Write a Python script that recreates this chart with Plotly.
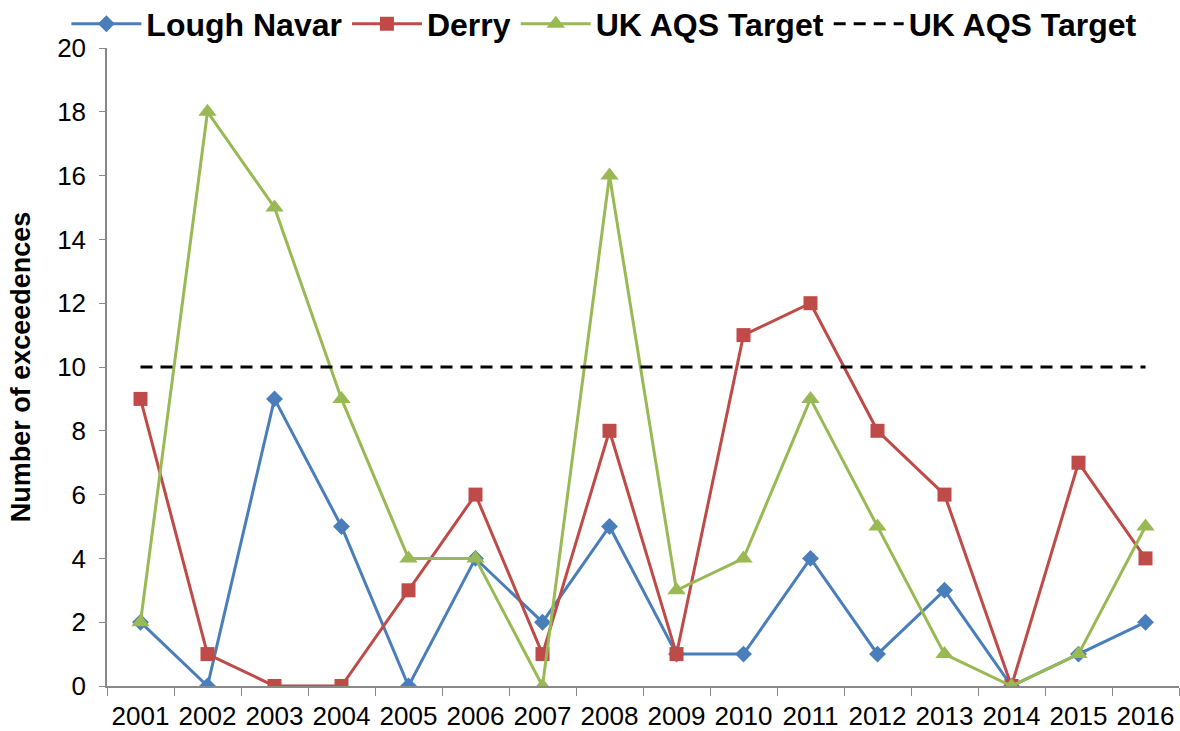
import plotly.graph_objects as go

years = ["2001", "2002", "2003", "2004", "2005", "2006", "2007", "2008",
         "2009", "2010", "2011", "2012", "2013", "2014", "2015", "2016"]
lough_navar = [2, 0, 9, 5, 0, 4, 2, 5, 1, 1, 4, 1, 3, 0, 1, 2]
derry = [9, 1, 0, 0, 3, 6, 1, 8, 1, 11, 12, 8, 6, 0, 7, 4]
uk_aqs_series = [2, 18, 15, 9, 4, 4, 0, 16, 3, 4, 9, 5, 1, 0, 1, 5]
target_level = [10] * len(years)
y_ticks = [0, 2, 4, 6, 8, 10, 12, 14, 16, 18, 20]

FONT = "Liberation Sans, Arial, sans-serif"
AXIS_GRAY = "#898989"

fig = go.Figure()
fig.add_trace(go.Scatter(x=years, y=lough_navar, name="Lough Navar", mode="lines+markers",
                         line=dict(color="#4A7EBB", width=3),
                         marker=dict(symbol="diamond", size=13, color="#4A7EBB")))
fig.add_trace(go.Scatter(x=years, y=derry, name="Derry", mode="lines+markers",
                         line=dict(color="#BE4B48", width=3),
                         marker=dict(symbol="square", size=14, color="#BE4B48")))
fig.add_trace(go.Scatter(x=years, y=uk_aqs_series, name="UK AQS Target", mode="lines+markers",
                         line=dict(color="#98B954", width=3),
                         marker=dict(symbol="triangle-up", size=16, color="#98B954")))
fig.add_trace(go.Scatter(x=years, y=target_level, name="UK AQS Target", mode="lines",
                         line=dict(color="black", width=3, dash="12px,8px")))

fig.update_layout(
    width=1180, height=731,
    margin=dict(l=107, r=1, t=48, b=45, autoexpand=False),
    paper_bgcolor="white", plot_bgcolor="white",
    font=dict(family=FONT, size=26, color="black"),
    legend=dict(orientation="h", x=-0.0379, xanchor="left", y=1.0376, yanchor="middle",
                font=dict(family=FONT, size=32, color="black", weight="bold"),
                itemwidth=70, tracegroupgap=0, borderwidth=0, bgcolor="rgba(0,0,0,0)"),
    showlegend=True,
)
fig.update_xaxes(type="category", range=[-0.5, 15.5], showgrid=False,
                 showline=True, linecolor=AXIS_GRAY, linewidth=1.5,
                 ticks="outside", tickson="boundaries", ticklen=8, tickcolor=AXIS_GRAY,
                 ticklabelstandoff=6,
                 tickfont=dict(size=26, family=FONT))
fig.update_yaxes(range=[0, 20], tickvals=y_ticks, showgrid=False, zeroline=False,
                 showline=True, linecolor=AXIS_GRAY, linewidth=1.5,
                 ticks="outside", ticklen=6, tickcolor=AXIS_GRAY,
                 ticklabelstandoff=8,
                 tickfont=dict(size=26, family=FONT),
                 title=dict(text="Number of exceedences", font=dict(size=27, family=FONT, weight="bold"),
                            standoff=19))

fig.write_html("out.html", config={"displayModeBar": False},
               post_script="document.body.style.margin='0';document.body.style.overflow='hidden';")
